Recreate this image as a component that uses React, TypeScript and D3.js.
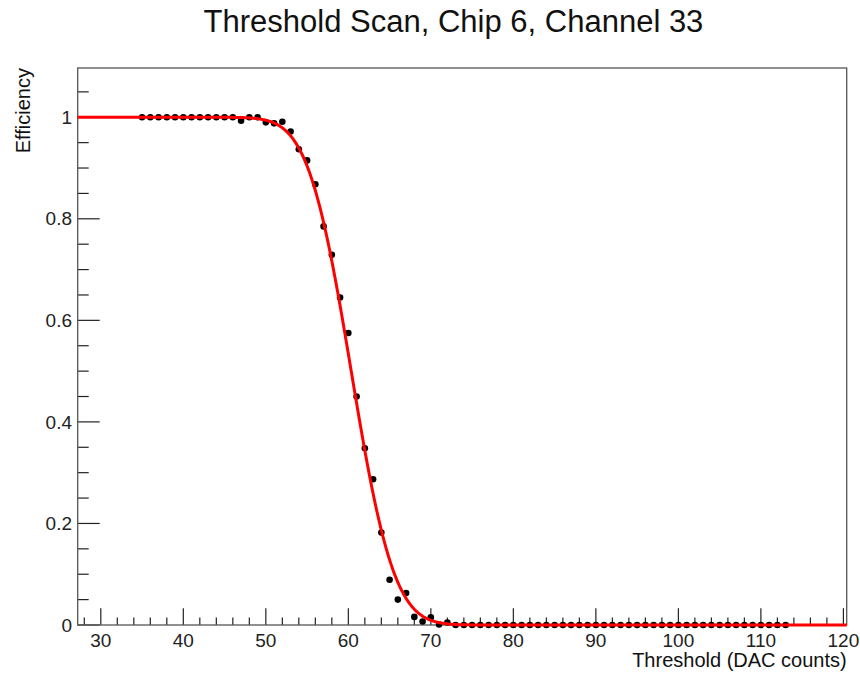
import React from "react";
import * as d3 from "d3";

const TITLE = "Threshold Scan, Chip 6, Channel 33";
const X_TITLE = "Threshold (DAC counts)";
const Y_TITLE = "Efficiency";

const thresholds = [
  35, 36, 37, 38, 39, 40, 41, 42, 43, 44, 45, 46, 47, 48, 49, 50, 51, 52, 53, 54,
  55, 56, 57, 58, 59, 60, 61, 62, 63, 64, 65, 66, 67, 68, 69, 70, 71, 72, 73, 74,
  75, 76, 77, 78, 79, 80, 81, 82, 83, 84, 85, 86, 87, 88, 89, 90, 91, 92, 93, 94,
  95, 96, 97, 98, 99, 100, 101, 102, 103, 104, 105, 106, 107, 108, 109, 110, 111, 112, 113,
];
const efficiency = [
  1, 1, 1, 1, 1, 1, 1, 1, 1, 1, 1, 1, 0.993, 1, 1, 0.99, 0.988, 0.991, 0.972, 0.937,
  0.915, 0.868, 0.785, 0.729, 0.645, 0.575, 0.45, 0.348, 0.287, 0.182, 0.089, 0.05, 0.063, 0.016, 0.007, 0.015, 0.001, 0.005, 0, 0,
  0, 0, 0, 0, 0, 0, 0, 0, 0, 0, 0, 0, 0, 0, 0, 0, 0, 0, 0, 0,
  0, 0, 0, 0, 0, 0, 0, 0, 0, 0, 0, 0, 0, 0, 0, 0, 0, 0, 0,
];

// fit parameters (S-curve: 0.5 * erfc((x - mu) / (sqrt(2) * sigma)))
const FIT_MU = 60.35;
const FIT_SIGMA = 4.1;

const xTickLabels = [30, 40, 50, 60, 70, 80, 90, 100, 110, 120];
const yTickLabels = [0, 0.2, 0.4, 0.6, 0.8, 1];

function erf(x: number) {
  const s = x < 0 ? -1 : 1;
  const a = Math.abs(x);
  const t = 1 / (1 + 0.3275911 * a);
  const y =
    1 -
    (((((1.061405429 * t - 1.453152027) * t + 1.421413741) * t - 0.284496736) * t + 0.254829592) *
      t) *
      Math.exp(-a * a);
  return s * y;
}
const fitFn = (x: number) => 0.5 * (1 - erf((x - FIT_MU) / (Math.SQRT2 * FIT_SIGMA)));

const W = 860;
const H = 677;
const L = 77.7, R = 846.7, T = 68, B = 625;
const FONT = "'Liberation Sans', Arial, Helvetica, sans-serif";

export default function App() {
  const x = d3.scaleLinear().domain([27.2, 120.4]).range([L, R]);
  const y = d3.scaleLinear().domain([0, 1.097]).range([B, T]);

  const xMinor = d3.range(28, 121, 2).filter((v) => v % 10 !== 0);
  const yMinor = d3.range(0, 1.1, 0.05).filter((v) => Math.abs(v * 5 - Math.round(v * 5)) > 1e-6);

  const curvePts = d3.range(27.2, 120.41, 0.1).map((v) => [v, fitFn(v)] as [number, number]);
  const line = d3
    .line<[number, number]>()
    .x((d) => x(d[0]))
    .y((d) => y(d[1]));

  const tickColor = "#222";
  return (
    <svg
      width={W}
      height={H}
      style={{ position: "absolute", left: 0, top: 0, display: "block", background: "#fff" }}
      fontFamily={FONT}
    >
      <rect x={0} y={0} width={W} height={H} fill="#fff" />
      <text x={453.5} y={31.5} fontSize={31} textAnchor="middle" fill="#111">
        {TITLE}
      </text>

      {/* x ticks */}
      {xTickLabels.map((v) => (
        <line key={"xm" + v} x1={x(v)} x2={x(v)} y1={B} y2={B - 16.7} stroke={tickColor} strokeWidth={1.2} />
      ))}
      {xMinor.map((v) => (
        <line key={"xn" + v} x1={x(v)} x2={x(v)} y1={B} y2={B - 7.5} stroke={tickColor} strokeWidth={1.2} />
      ))}
      {xTickLabels.map((v) => (
        <text key={"xl" + v} x={x(v)} y={647} fontSize={19} textAnchor="middle" fill="#222">
          {v}
        </text>
      ))}

      {/* y ticks */}
      {yTickLabels.map((v) => (
        <line key={"ym" + v} x1={L} x2={L + 22} y1={y(v)} y2={y(v)} stroke={tickColor} strokeWidth={1.2} />
      ))}
      {yMinor.map((v, i) => (
        <line key={"yn" + i} x1={L} x2={L + 11} y1={y(v)} y2={y(v)} stroke={tickColor} strokeWidth={1.2} />
      ))}
      {yTickLabels.map((v) => (
        <text key={"yl" + v} x={72} y={y(v)} dy="0.35em" fontSize={19} textAnchor="end" fill="#222">
          {v}
        </text>
      ))}

      {/* frame */}
      <rect x={L} y={T} width={R - L} height={B - T} fill="none" stroke="#555" strokeWidth={1.3} />

      {/* data points */}
      {thresholds.map((t, i) => (
        <circle key={"p" + t} cx={x(t)} cy={y(efficiency[i])} r={3.3} fill="#000" />
      ))}

      {/* fit curve */}
      <path d={line(curvePts) || ""} fill="none" stroke="#ff0000" strokeWidth={3} />

      <text x={R} y={667} fontSize={20} textAnchor="end" fill="#111">
        {X_TITLE}
      </text>
      <text
        transform={`translate(30, ${T}) rotate(-90)`}
        fontSize={20}
        textAnchor="end"
        fill="#111"
      >
        {Y_TITLE}
      </text>
    </svg>
  );
}
